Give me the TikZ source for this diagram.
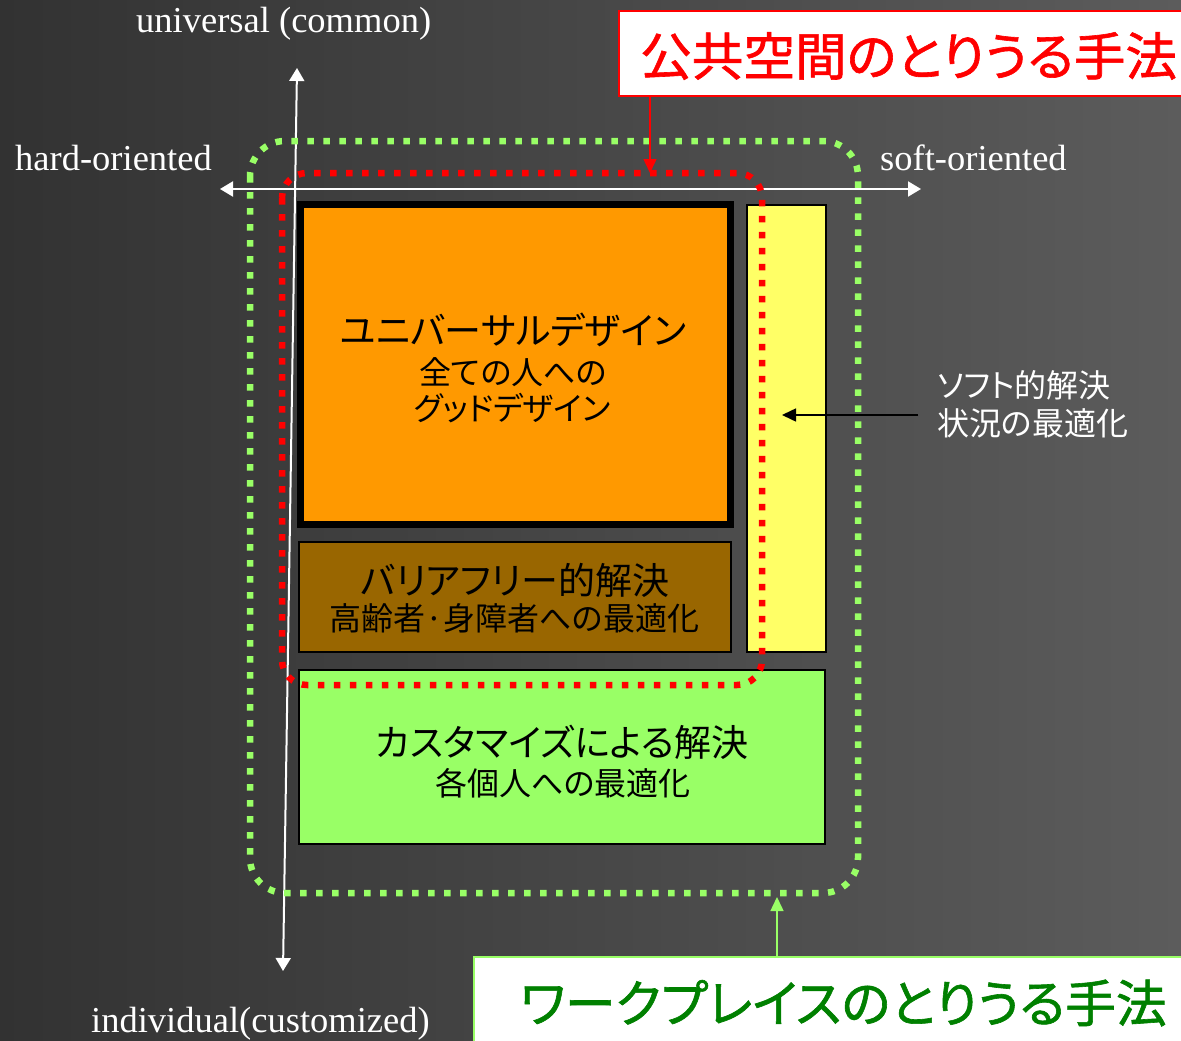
\documentclass[tikz,border=0pt]{standalone}
\usepackage{fontspec}
\setmainfont{Liberation Serif}
\newfontfamily\jp[RawFeature=+palt]{Noto Sans CJK JP}
\newfontfamily\jpt[RawFeature=+palt,FakeBold=1.2]{Noto Sans CJK JP}
\usetikzlibrary{arrows.meta}
\definecolor{bgL}{RGB}{50,50,50}
\definecolor{bgR}{RGB}{92,92,92}
\definecolor{orangebox}{HTML}{FF9900}
\definecolor{brownbox}{HTML}{996600}
\definecolor{yellowbox}{HTML}{FFFF66}
\definecolor{lgreen}{HTML}{99FF66}
\definecolor{dgreen}{HTML}{008000}
\definecolor{pred}{HTML}{FF0000}
\tikzset{
  axis/.style={draw=white,line width=2pt,{Triangle[length=13pt,width=15pt]}-{Triangle[length=13pt,width=15pt]}},
  solbox/.style={draw=black,line width=2pt,inner sep=0pt,rectangle},
  jpbig/.style={font=\jp\fontsize{37}{42}\selectfont,inner sep=0pt,text=black},
  jpmid/.style={font=\jp\fontsize{32}{36}\selectfont,inner sep=0pt,text=black},
  entext/.style={font=\fontsize{36.5}{42}\selectfont,text=white,inner sep=0pt},
  dotline/.style={line width=6.5pt,dash pattern=on 6.5pt off 9.5pt},
  tagline/.style={line width=1.5pt,-{Triangle[length=14pt,width=13pt]}}
}
\begin{document}
\begin{tikzpicture}[x=1pt,y=-1pt]
\useasboundingbox (0,0) rectangle (1181,1041);
\clip (0,0) rectangle (1181,1041);
\fill[left color=bgL,right color=bgR] (0,0) rectangle (1181,1041);

% axes
\coordinate (vtop) at (297,68);
\coordinate (vbot) at (283,971);
\coordinate (hl) at (220,189);
\coordinate (hr) at (921,189);
\draw[axis] (vbot) -- (vtop);
\draw[axis] (hl) -- (hr);

\node[entext,anchor=base west] (univ) at (136,33) {universal (common)};
\node[entext,anchor=base west] (hard) at (15,170) {hard-oriented};
\node[entext,anchor=base west] (soft) at (880,170) {soft-oriented};
\node[entext,anchor=base west] (indiv) at (91,1032) {individual(customized)};

% boxes
\node[solbox,fill=orangebox,line width=7pt,minimum width=430pt,minimum height=320pt] (ud) at (515.5,364.5) {};
\node[jpbig] (ud1) at (513,330) {ユニバーサルデザイン};
\node[jpmid] (ud2) at (513,372) {全ての人への};
\node[jpmid] (ud3) at (512,408) {グッドデザイン};

\node[solbox,fill=yellowbox,minimum width=79pt,minimum height=447pt] (soft box) at (786.5,428.5) {};

\node[solbox,fill=brownbox,minimum width=432pt,minimum height=110pt] (bf) at (515,597) {};
\node[jpbig] (bf1) at (515,580) {バリアフリー的解決};
\node[jpmid] (bf2) at (514.5,618) {高齢者·身障者への最適化};

\node[solbox,fill=lgreen,minimum width=526pt,minimum height=174pt] (cz) at (562,757) {};
\node[jpbig] (cz1) at (562,742) {カスタマイズによる解決};
\node[jpmid] (cz2) at (563,783) {各個人への最適化};

% dotted outlines
\draw[dotline,draw=lgreen,rounded corners=35pt] (250,141) rectangle (858,893);
\draw[dotline,draw=pred,rounded corners=25pt] (282,173) rectangle (762,685);

% soft label
\node[jpmid,text=white,anchor=west] (sl1) at (937,385) {ソフト的解決};
\node[jpmid,text=white,anchor=west] (sl2) at (937,423) {状況の最適化};
\coordinate (softtail) at (918,415);
\coordinate (softtip) at (782,415);
\draw[tagline,draw=black,fill=black] (softtail) -- (softtip);

% public label
\node[draw=pred,fill=white,line width=2pt,minimum width=581pt,minimum height=85pt,inner sep=0pt] (pub) at (909.5,53.5) {};
\node[font=\jpt\fontsize{51.6}{58}\selectfont,text=pred,inner sep=0pt,anchor=west] (pubt) at (640,56) {公共空間のとりうる手法};
\coordinate (redtip) at (650,173);
\draw[tagline,draw=pred,fill=pred] (pub.south -| redtip) -- (redtip);

% workplace label
\node[draw=lgreen,fill=white,line width=2pt,minimum width=726pt,minimum height=103pt,inner sep=0pt] (wp) at (837,1008.5) {};
\node[font=\jpt\fontsize{50.8}{58}\selectfont,text=dgreen,inner sep=0pt,anchor=west] (wpt) at (520,1003) {ワークプレイスのとりうる手法};
\coordinate (grtip) at (777,897);
\draw[tagline,draw=lgreen,fill=lgreen] (wp.north -| grtip) -- (grtip);
\end{tikzpicture}
\end{document}
